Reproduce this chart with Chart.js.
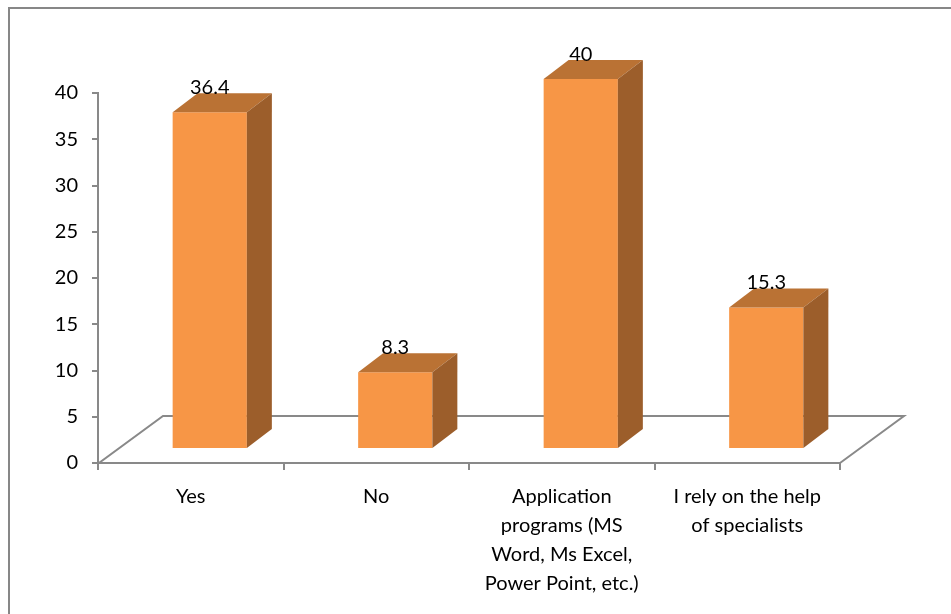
<!DOCTYPE html>
<html>
<head>
<meta charset="utf-8">
<script src="https://cdn.jsdelivr.net/npm/chart.js@4.4.1/dist/chart.umd.min.js"></script>
<style>
  html, body { margin: 0; padding: 0; background: #fff; }
  #wrap { width: 951px; height: 614px; position: relative; }
</style>
</head>
<body>
<div id="wrap"><canvas id="chart" width="951" height="614"></canvas></div>
<script>
// chart data
const categories = [
    "Yes",
    "No",
    ["Application", "programs (MS", "Word, Ms Excel,", "Power Point, etc.)"],
    ["I rely on the help", "of specialists"]
]
const values = [36.4, 8.3, 40, 15.3]
const yTicks = [0, 5, 10, 15, 20, 25, 30, 35, 40]

// 3D look (pixels)
const floorDepth = { dx: 64, dy: -47 }
const barShift = { dx: 19, dy: -14 }   // front face of bars sits inside the floor
const barDepth = { dx: 25, dy: -19 }

const FONT = "Lato, 'Open Sans', sans-serif"
const axisGray = "#898989"

const frame3d = {
    id: "frame3d",
    beforeDraw(chart) {
        const ctx = chart.ctx
        ctx.save()
        ctx.strokeStyle = "#878787"
        ctx.lineWidth = 2
        ctx.beginPath()
        ctx.moveTo(9, 700)
        ctx.lineTo(9, 8)
        ctx.lineTo(960, 8)
        ctx.stroke()
        ctx.restore()
    },
    beforeDatasetsDraw(chart) {
        const ctx = chart.ctx
        const x = chart.scales.x, y = chart.scales.y
        const y0 = y.getPixelForValue(0)
        const l = x.left + 1, r = x.right
        ctx.save()
        ctx.strokeStyle = axisGray
        ctx.lineWidth = 2
        ctx.beginPath()
        ctx.moveTo(r, y0)
        ctx.lineTo(l, y0)
        ctx.lineTo(l + floorDepth.dx, y0 + floorDepth.dy)
        ctx.lineTo(r + floorDepth.dx, y0 + floorDepth.dy)
        ctx.lineTo(r, y0)
        ctx.stroke()
        ctx.restore()
        // shift the bars back into the floor
        ctx.save()
        ctx.translate(barShift.dx, barShift.dy)
    },
    afterDatasetsDraw(chart) {
        const ctx = chart.ctx
        ctx.restore()
        const meta = chart.getDatasetMeta(0)
        meta.data.forEach((bar, i) => {
            const p = bar.getProps(["x", "y", "base", "width"], true)
            const left = p.x - p.width / 2 + barShift.dx
            const right = p.x + p.width / 2 + barShift.dx
            const top = p.y + barShift.dy
            const bottom = p.base + barShift.dy
            // top face
            ctx.fillStyle = "#BA7234"
            ctx.beginPath()
            ctx.moveTo(left, top)
            ctx.lineTo(right, top)
            ctx.lineTo(right + barDepth.dx, top + barDepth.dy)
            ctx.lineTo(left + barDepth.dx, top + barDepth.dy)
            ctx.closePath()
            ctx.fill()
            // side face
            ctx.fillStyle = "#9C5E2B"
            ctx.beginPath()
            ctx.moveTo(right, top)
            ctx.lineTo(right + barDepth.dx, top + barDepth.dy)
            ctx.lineTo(right + barDepth.dx, bottom + barDepth.dy)
            ctx.lineTo(right, bottom)
            ctx.closePath()
            ctx.fill()
            // value label
            ctx.fillStyle = "#000"
            ctx.font = "20px " + FONT
            ctx.textAlign = "center"
            ctx.textBaseline = "alphabetic"
            ctx.fillText(String(values[i]), p.x + barShift.dx, top + barDepth.dy + 1)
        })
    }
}

new Chart(document.getElementById("chart"), {
    type: "bar",
    data: {
        labels: categories,
        datasets: [{
            data: values,
            backgroundColor: "#F79646",
            borderWidth: 0,
            categoryPercentage: 1,
            barPercentage: 0.4,
            clip: false
        }]
    },
    options: {
        responsive: false,
        animation: false,
        layout: { padding: { left: 0, top: 93, right: 111, bottom: 0 } },
        plugins: { legend: { display: false }, tooltip: { enabled: false } },
        scales: {
            x: {
                grid: { drawOnChartArea: false, color: axisGray, lineWidth: 2, tickLength: 7 },
                border: { display: false },
                ticks: {
                    color: "#000",
                    font: { family: FONT, size: 20, lineHeight: 1.45 },
                    padding: 12,
                    maxRotation: 0,
                    autoSkip: false
                },
                afterFit(scale) { scale.height = 151 }
            },
            y: {
                min: 0,
                max: 40,
                afterBuildTicks(scale) { scale.ticks = yTicks.map(v => ({ value: v })) },
                grid: { drawOnChartArea: false, color: axisGray, lineWidth: 2, tickLength: 6 },
                border: { display: true, color: axisGray, width: 2 },
                ticks: {
                    color: "#000",
                    font: { family: FONT, size: 20 },
                    padding: 14
                },
                afterFit(scale) { scale.width = 98 }
            }
        }
    },
    plugins: [frame3d]
})
</script>
</body>
</html>
